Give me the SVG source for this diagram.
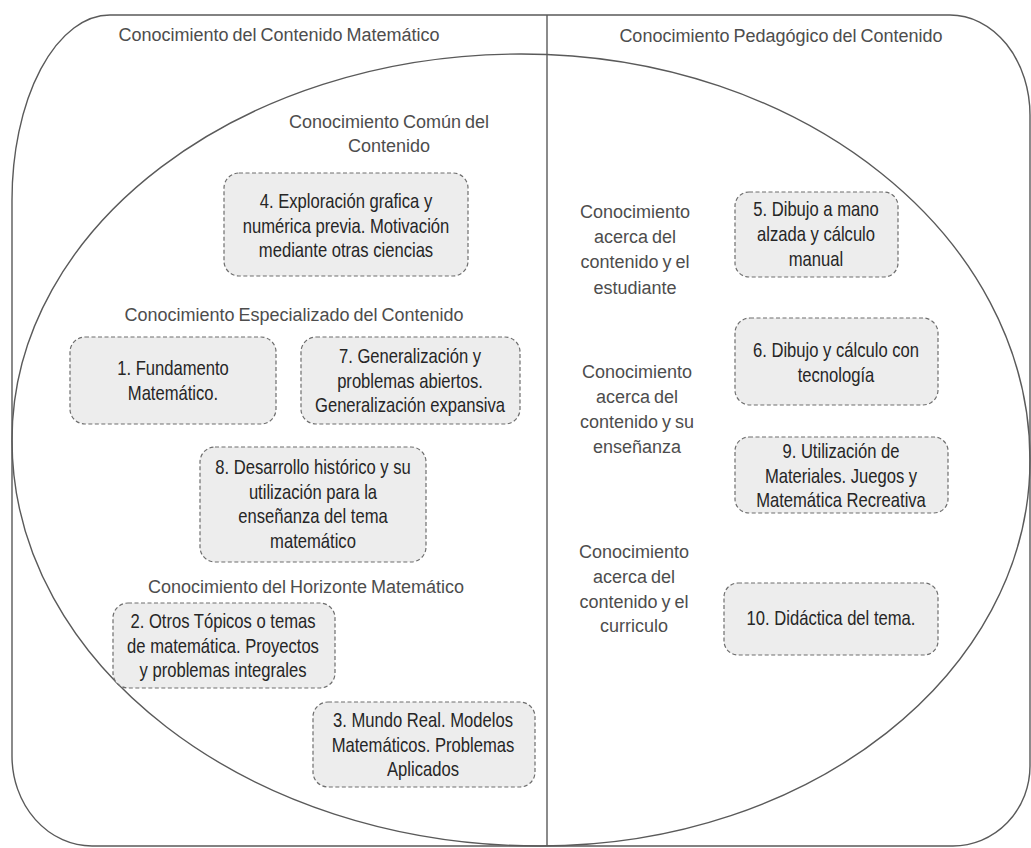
<svg xmlns="http://www.w3.org/2000/svg" width="1031" height="848" viewBox="0 0 1031 848">
<style>
.frame{fill:none;stroke:#5a5a5a;stroke-width:1.4}
.box{fill:#ededed;stroke:#6e6e6e;stroke-width:1.2;stroke-dasharray:4 2.5}
.lbl{font-family:"Liberation Sans",Arial,sans-serif;font-size:18px;fill:#4d4d4d;text-anchor:middle;word-spacing:-1px}
.bt{font-family:"Liberation Sans",Arial,sans-serif;font-size:20.5px;fill:#262626;text-anchor:middle}
</style>
<rect x="0" y="0" width="1031" height="848" fill="#ffffff"/>
<g id="frames">
<path class="frame" d="M 12 200 A 98 185 0 0 1 110 15 H 950 A 80 100 0 0 1 1030 115 V 766 A 77 80 0 0 1 953 846 H 92 A 80 90 0 0 1 12 756 Z"/>
<path class="frame" d="M 521 54 C 802 54 1030 236 1030 460 C 1030 673 811 846 540 846 C 248 846 12 664 12 440 C 12 227 240 54 521 54 Z"/>
<line class="frame" x1="547" y1="15" x2="547" y2="846"/>
</g>
<g id="labels">
<text class="lbl" x="279" y="41">Conocimiento del Contenido Matemático</text>
<text class="lbl" x="781" y="42">Conocimiento Pedagógico del Contenido</text>
<text class="lbl" x="389" y="128">Conocimiento Común del</text>
<text class="lbl" x="389" y="152">Contenido</text>
<text class="lbl" x="294" y="321">Conocimiento Especializado del Contenido</text>
<text class="lbl" x="306" y="593">Conocimiento del Horizonte Matemático</text>
<text class="lbl" x="635" y="218">Conocimiento</text>
<text class="lbl" x="635" y="243">acerca del</text>
<text class="lbl" x="635" y="268">contenido y  el</text>
<text class="lbl" x="635" y="294">estudiante</text>
<text class="lbl" x="637" y="378">Conocimiento</text>
<text class="lbl" x="637" y="403">acerca del</text>
<text class="lbl" x="637" y="428">contenido y su</text>
<text class="lbl" x="637" y="453">enseñanza</text>
<text class="lbl" x="634" y="558">Conocimiento</text>
<text class="lbl" x="634" y="583">acerca del</text>
<text class="lbl" x="634" y="608">contenido y el</text>
<text class="lbl" x="634" y="632">curriculo</text>
</g>
<g id="node4">
<rect class="box" x="224" y="173" width="244" height="103" rx="15"/>
<g transform="translate(346 0) scale(0.81 1)">
<text class="bt" x="0" y="208">4. Exploración grafica y</text>
<text class="bt" x="0" y="233">numérica previa. Motivación</text>
<text class="bt" x="0" y="257">mediante otras ciencias</text>
</g>
</g>
<g id="node5">
<rect class="box" x="735" y="192" width="163" height="85" rx="14"/>
<g transform="translate(816 0) scale(0.81 1)">
<text class="bt" x="0" y="216">5. Dibujo a mano</text>
<text class="bt" x="0" y="241">alzada y cálculo</text>
<text class="bt" x="0" y="266">manual</text>
</g>
</g>
<g id="node1">
<rect class="box" x="70" y="337" width="206" height="87" rx="15"/>
<g transform="translate(173 0) scale(0.81 1)">
<text class="bt" x="0" y="375">1. Fundamento</text>
<text class="bt" x="0" y="400">Matemático.</text>
</g>
</g>
<g id="node7">
<rect class="box" x="301" y="337" width="219" height="87" rx="15"/>
<g transform="translate(410 0) scale(0.81 1)">
<text class="bt" x="0" y="363">7. Generalización y</text>
<text class="bt" x="0" y="388">problemas abiertos.</text>
<text class="bt" x="0" y="412">Generalización expansiva</text>
</g>
</g>
<g id="node8">
<rect class="box" x="200" y="447" width="226" height="115" rx="15"/>
<g transform="translate(313 0) scale(0.81 1)">
<text class="bt" x="0" y="474">8. Desarrollo histórico y su</text>
<text class="bt" x="0" y="499">utilización para la</text>
<text class="bt" x="0" y="523">enseñanza del tema</text>
<text class="bt" x="0" y="548">matemático</text>
</g>
</g>
<g id="node6">
<rect class="box" x="735" y="318" width="203" height="87" rx="15"/>
<g transform="translate(836 0) scale(0.81 1)">
<text class="bt" x="0" y="357">6. Dibujo y cálculo con</text>
<text class="bt" x="0" y="382">tecnología</text>
</g>
</g>
<g id="node9">
<rect class="box" x="735" y="437" width="213" height="76" rx="14"/>
<g transform="translate(841 0) scale(0.81 1)">
<text class="bt" x="0" y="458">9. Utilización de</text>
<text class="bt" x="0" y="483">Materiales. Juegos y</text>
<text class="bt" x="0" y="507">Matemática Recreativa</text>
</g>
</g>
<g id="node10">
<rect class="box" x="724" y="583" width="214" height="72" rx="14"/>
<g transform="translate(831 0) scale(0.81 1)">
<text class="bt" x="0" y="625">10. Didáctica del tema.</text>
</g>
</g>
<g id="node2">
<rect class="box" x="113" y="603" width="222" height="85" rx="15"/>
<g transform="translate(223 0) scale(0.81 1)">
<text class="bt" x="0" y="628">2. Otros Tópicos o temas</text>
<text class="bt" x="0" y="653">de matemática. Proyectos</text>
<text class="bt" x="0" y="677">y problemas integrales</text>
</g>
</g>
<g id="node3">
<rect class="box" x="313" y="702" width="222" height="85" rx="15"/>
<g transform="translate(423 0) scale(0.81 1)">
<text class="bt" x="0" y="727">3. Mundo Real. Modelos</text>
<text class="bt" x="0" y="752">Matemáticos. Problemas</text>
<text class="bt" x="0" y="776">Aplicados</text>
</g>
</g>
<g id="connectors"></g>
</svg>
